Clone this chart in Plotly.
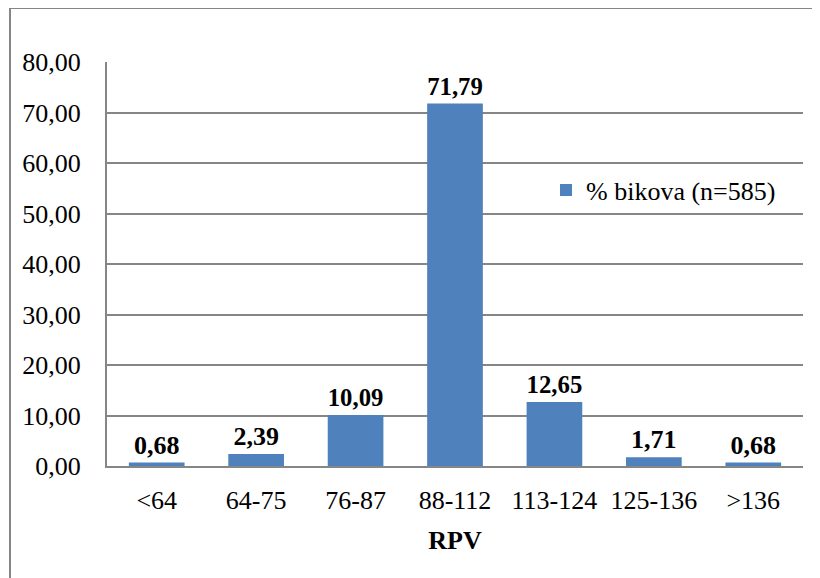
import plotly.graph_objects as go

categories = ["<64", "64-75", "76-87", "88-112", "113-124", "125-136", ">136"]
values = [0.68, 2.39, 10.09, 71.79, 12.65, 1.71, 0.68]
series_name = "% bikova (n=585)"

# page body has an 8px margin; figure sized to fill the rest of the window
OFF = 8
W, H = 820 - OFF, 578 - OFF
L, T = 107 - OFF, 62 - OFF
R = W - (803 - OFF)
B = H - (466 - OFF)
pw, ph = W - L - R, H - T - B

FONT = "Liberation Serif, Times New Roman, serif"

fig = go.Figure()
fig.add_trace(go.Bar(
    x=categories, y=values, name=series_name,
    marker=dict(color="#4F81BD", line=dict(width=0)),
    texttemplate="<b>%{y:.2f}</b>", textposition="outside",
    textfont=dict(family=FONT, size=26, color="black"),
    cliponaxis=False, showlegend=True,
))

fig.update_layout(
    width=W, height=H,
    margin=dict(l=L, r=R, t=T, b=B),
    paper_bgcolor="white", plot_bgcolor="white",
    separators=", ",
    bargap=0.44,
    font=dict(family=FONT, size=26, color="black"),
    showlegend=True,
    legend=dict(x=(546 - OFF - L) / pw, y=1 - (190 - OFF - T) / ph,
                xanchor="left", yanchor="middle",
                bgcolor="rgba(0,0,0,0)", font=dict(family=FONT, size=26),
                itemwidth=30),
    xaxis=dict(
        showgrid=False, showline=True, linecolor="#868686", linewidth=2,
        ticks="outside", ticklen=0, ticklabelstandoff=10,
        tickfont=dict(family=FONT, size=26),
        title=dict(text="<b>RPV</b>", font=dict(family=FONT, size=26), standoff=17),
    ),
    yaxis=dict(
        range=[0, 80], dtick=10, tickformat=".2f",
        showgrid=True, gridcolor="#868686", gridwidth=2,
        showline=True, linecolor="#868686", linewidth=2,
        ticks="outside", ticklen=0, ticklabelstandoff=19,
        tickfont=dict(family=FONT, size=26),
        zeroline=False,
    ),
    shapes=[dict(
        type="rect", xref="paper", yref="paper",
        x0=(10 - OFF - L) / pw, x1=(W + 20 - L) / pw,
        y0=-(H + 20 - T - ph) / ph, y1=1 + (T - (8 - OFF)) / ph,
        line=dict(color="#868686", width=2), fillcolor="rgba(0,0,0,0)", layer="below",
    )],
)

fig.write_html("out.html")
